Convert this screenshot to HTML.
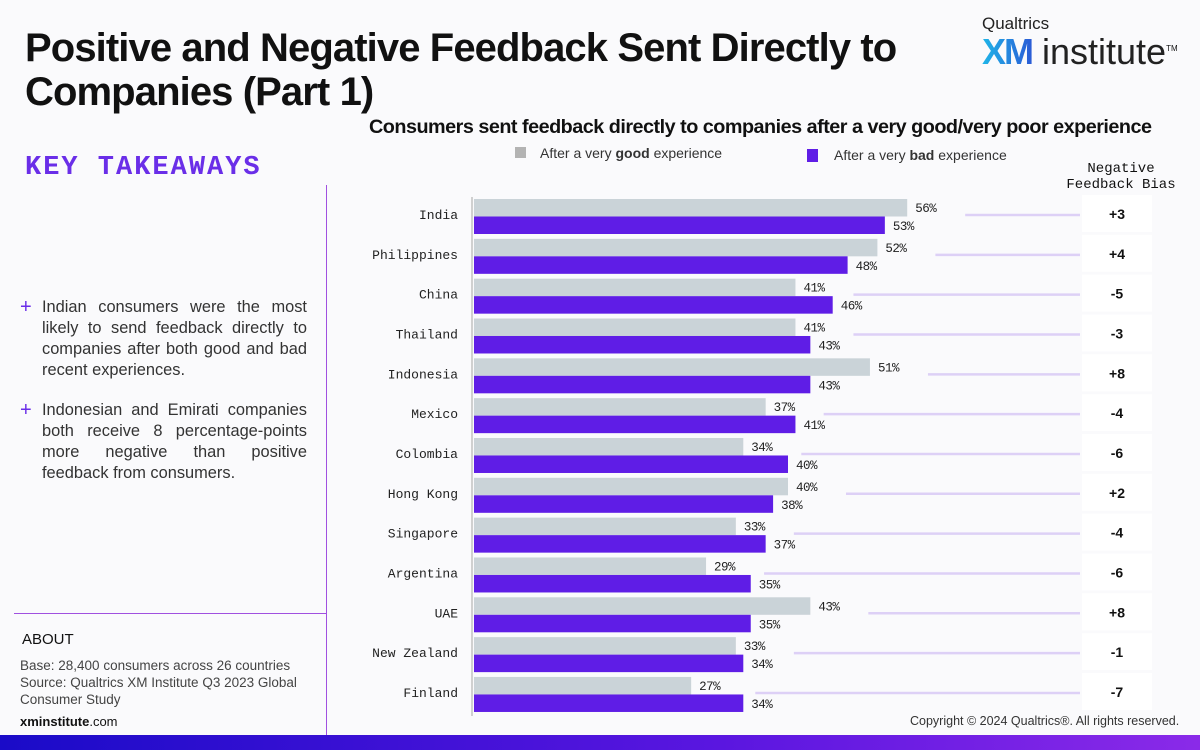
<!DOCTYPE html>
<html><head><meta charset="utf-8"><style>
body{margin:0;width:1200px;height:750px;background:#fafafc;position:relative;overflow:hidden;font-family:"Liberation Sans",sans-serif;color:#111}
.abs{position:absolute}
.mono{font-family:"Liberation Mono",monospace}
</style></head><body>
<div class="abs" style="left:25px;top:26px;font-size:40px;font-weight:bold;line-height:44px;letter-spacing:-0.9px;width:900px">Positive and Negative Feedback Sent Directly to Companies (Part 1)</div>
<div class="abs" style="left:982px;top:14px">
 <div style="font-size:17px;color:#222">Qualtrics</div>
 <div style="font-size:36px;line-height:34px;margin-top:-2px"><b style="background:linear-gradient(90deg,#1fb5e8,#2a5bd6);-webkit-background-clip:text;color:transparent;letter-spacing:-2px">XM</b><span style="color:#222"> institute</span><sup style="font-size:8px">TM</sup></div>
</div>
<div class="abs" style="left:369px;top:116px;font-size:19.8px;font-weight:bold;letter-spacing:-0.5px">Consumers sent feedback directly to companies after a very good/very poor experience</div>
<div class="abs" style="left:515px;top:145px;font-size:14px;color:#333"><span style="display:inline-block;width:11px;height:11px;background:#b3b3b3;margin-right:14px"></span>After a very <b>good</b> experience</div>
<div class="abs" style="left:807px;top:147px;font-size:14px;color:#333"><span style="display:inline-block;width:11px;height:13px;background:#5f1de6;margin-right:16px;vertical-align:-2px"></span>After a very <b>bad</b> experience</div>
<div class="abs mono" style="left:1060px;top:161px;width:122px;text-align:center;font-size:14px;line-height:16px">Negative<br>Feedback Bias</div>
<div class="abs mono" style="left:25px;top:153px;font-size:27px;font-weight:bold;color:#6a2ee8;letter-spacing:2px">KEY TAKEAWAYS</div>
<div class="abs" style="left:326px;top:185px;width:1px;height:550px;background:#a050e0"></div>
<div class="abs" style="left:14px;top:613px;width:312px;height:1px;background:#a050e0"></div>
<div class="abs" style="left:42px;top:297px;width:265px;font-size:16.4px;line-height:21px;text-align:justify;color:#333"><span style="position:absolute;left:-22px;color:#6a2ee8;font-size:20px">+</span>Indian consumers were the most likely to send feedback directly to companies after both good and bad recent experiences.</div>
<div class="abs" style="left:42px;top:400px;width:265px;font-size:16.4px;line-height:21px;text-align:justify;color:#333"><span style="position:absolute;left:-22px;color:#6a2ee8;font-size:20px">+</span>Indonesian and Emirati companies both receive 8 percentage-points more negative than positive feedback from consumers.</div>
<div class="abs" style="left:22px;top:631px;font-size:15px">ABOUT</div>
<div class="abs" style="left:20px;top:657px;font-size:13.5px;line-height:17px;color:#444;width:310px">Base: 28,400 consumers across 26 countries<br>Source: Qualtrics XM Institute Q3 2023 Global Consumer Study</div>
<div class="abs" style="left:20px;top:714px;font-size:13px"><b>xminstitute</b>.com</div>
<div class="abs" style="left:910px;top:714px;font-size:12.5px;color:#333">Copyright © 2024 Qualtrics®. All rights reserved.</div>
<div class="abs" style="left:0;top:735px;width:1200px;height:15px;background:linear-gradient(90deg,#1a0bc8,#5a16e0 60%,#8a2ae8)"></div>
<svg class="abs" style="left:0;top:0" width="1200" height="750" id="chart"></svg>
<script>
const countries=["India","Philippines","China","Thailand","Indonesia","Mexico","Colombia","Hong Kong","Singapore","Argentina","UAE","New Zealand","Finland"];
const goodVals=[56,52,41,41,51,37,34,40,33,29,43,33,27];
const badVals=[53,48,46,43,43,41,40,38,37,35,35,34,34];
const biasLabels=["+3","+4","-5","-3","+8","-4","-6","+2","-4","-6","+8","-1","-7"];
const svg=document.getElementById('chart');
const NS="http://www.w3.org/2000/svg";
const x0=474;
function xs(v){return 490+v*7.45;}
function yRow(i){return 199+i*39.83;}
function mk(t,a,txt){const e=document.createElementNS(NS,t);for(const k in a)e.setAttribute(k,a[k]);if(txt!=null)e.textContent=txt;svg.appendChild(e);return e;}
let ax=mk('line',{x1:472,y1:197,x2:472,y2:716,stroke:'#d0d0d0','stroke-width':2});


countries.forEach((c,i)=>{
 const y=yRow(i);
 const cell=mk('rect',{x:1082,y:y-4,width:70,height:37,fill:'#ffffff'});
 
 
 const g=mk('rect',{x:x0,y:y,width:xs(goodVals[i])-x0,height:17.5,fill:'#cad3d8'});
 
 
 const b=mk('rect',{x:x0,y:y+17.5,width:xs(badVals[i])-x0,height:17.5,fill:'#5f1de6'});
 
 
 const lab=mk('text',{x:458,y:y+20,'text-anchor':'end','font-family':'Liberation Mono, monospace','font-size':13,fill:'#222'},c);
 
 
 const gl=mk('text',{x:xs(goodVals[i])+8,y:y+13,'font-family':'Liberation Mono, monospace','font-size':12.5,fill:'#222','letter-spacing':-0.5},goodVals[i]+'%');
 
 
 const bl=mk('text',{x:xs(badVals[i])+8,y:y+31,'font-family':'Liberation Mono, monospace','font-size':12.5,fill:'#222','letter-spacing':-0.5},badVals[i]+'%');
 
 
 const ln=mk('line',{x1:Math.max(xs(goodVals[i])+58,xs(badVals[i])+12),y1:y+16,x2:1080,y2:y+16,stroke:'#ddd0f6','stroke-width':2.5});
 
 
 const bt=mk('text',{x:1117,y:y+20,'text-anchor':'middle','font-family':'Liberation Sans, sans-serif','font-size':14,'font-weight':'bold',fill:'#111'},biasLabels[i]);
 
 
});
</script>
</body></html>
